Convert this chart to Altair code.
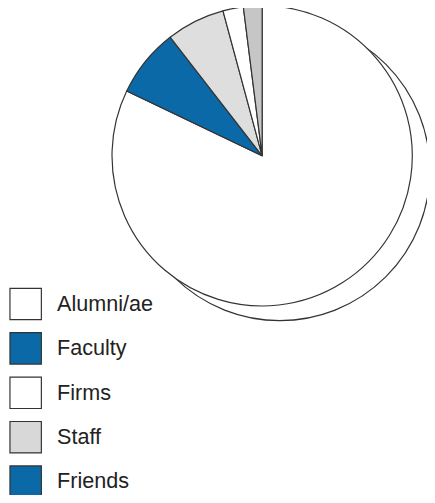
import altair as alt
import pandas as pd

# Pie slices, clockwise from 12 o'clock (percent shares)
slice_names = ["Alumni/ae", "Faculty", "Staff", "Firms", "Friends"]
slice_values = [82.1, 7.4, 6.3, 2.2, 2.0]
slice_colors = ["#ffffff", "#0b69a8", "#dedede", "#ffffff", "#c6c6c6"]

# Legend entries as printed
legend_labels = ["Alumni/ae", "Faculty", "Firms", "Staff", "Friends"]
legend_colors = ["#ffffff", "#0b69a8", "#ffffff", "#d8d8d8", "#0b69a8"]

W, H = 427, 487
CX, CY, R = 259, 146, 153
SX, SY = 277, 161
STROKE = "#333333"

pie_df = pd.DataFrame({
    "name": slice_names,
    "value": slice_values,
    "idx": list(range(len(slice_names))),
})
leg_df = pd.DataFrame({
    "label": legend_labels,
    "i": list(range(len(legend_labels))),
})

shadow = alt.Chart(pd.DataFrame({"a": [1]})).mark_arc(
    theta=0, theta2=6.2832, radius=R, fill="white", stroke=STROKE, strokeWidth=1.2
).encode(x=alt.value(SX), y=alt.value(SY))

pie = alt.Chart(pie_df).mark_arc(
    radius=R, stroke=STROKE, strokeWidth=1.2
).encode(
    theta=alt.Theta("value:Q", stack=True),
    order=alt.Order("idx:Q"),
    color=alt.Color("name:N", scale=alt.Scale(domain=slice_names, range=slice_colors), legend=None),
    x=alt.value(CX),
    y=alt.value(CY),
)

yscale = alt.Scale(domain=[0, 4], range=[297, 478])

swatches = alt.Chart(leg_df).mark_square(
    size=1024, stroke=STROKE, strokeWidth=1.2, opacity=1
).encode(
    x=alt.value(18),
    y=alt.Y("i:Q", scale=yscale, axis=None),
    fill=alt.Fill("label:N", scale=alt.Scale(domain=legend_labels, range=legend_colors), legend=None),
)

texts = alt.Chart(leg_df).mark_text(
    align="left", baseline="middle", font="Liberation Sans", fontSize=22, color="#222222"
).encode(
    x=alt.value(50),
    y=alt.Y("i:Q", scale=yscale, axis=None),
    text="label:N",
)

chart = alt.layer(shadow, pie, swatches, texts).resolve_scale(
    color="independent", fill="independent"
).properties(
    width=W, height=H, padding=0, autosize=alt.AutoSizeParams(type="none")
).configure_view(stroke=None)

chart.save("out.html", embed_options={"renderer": "svg", "actions": False})
